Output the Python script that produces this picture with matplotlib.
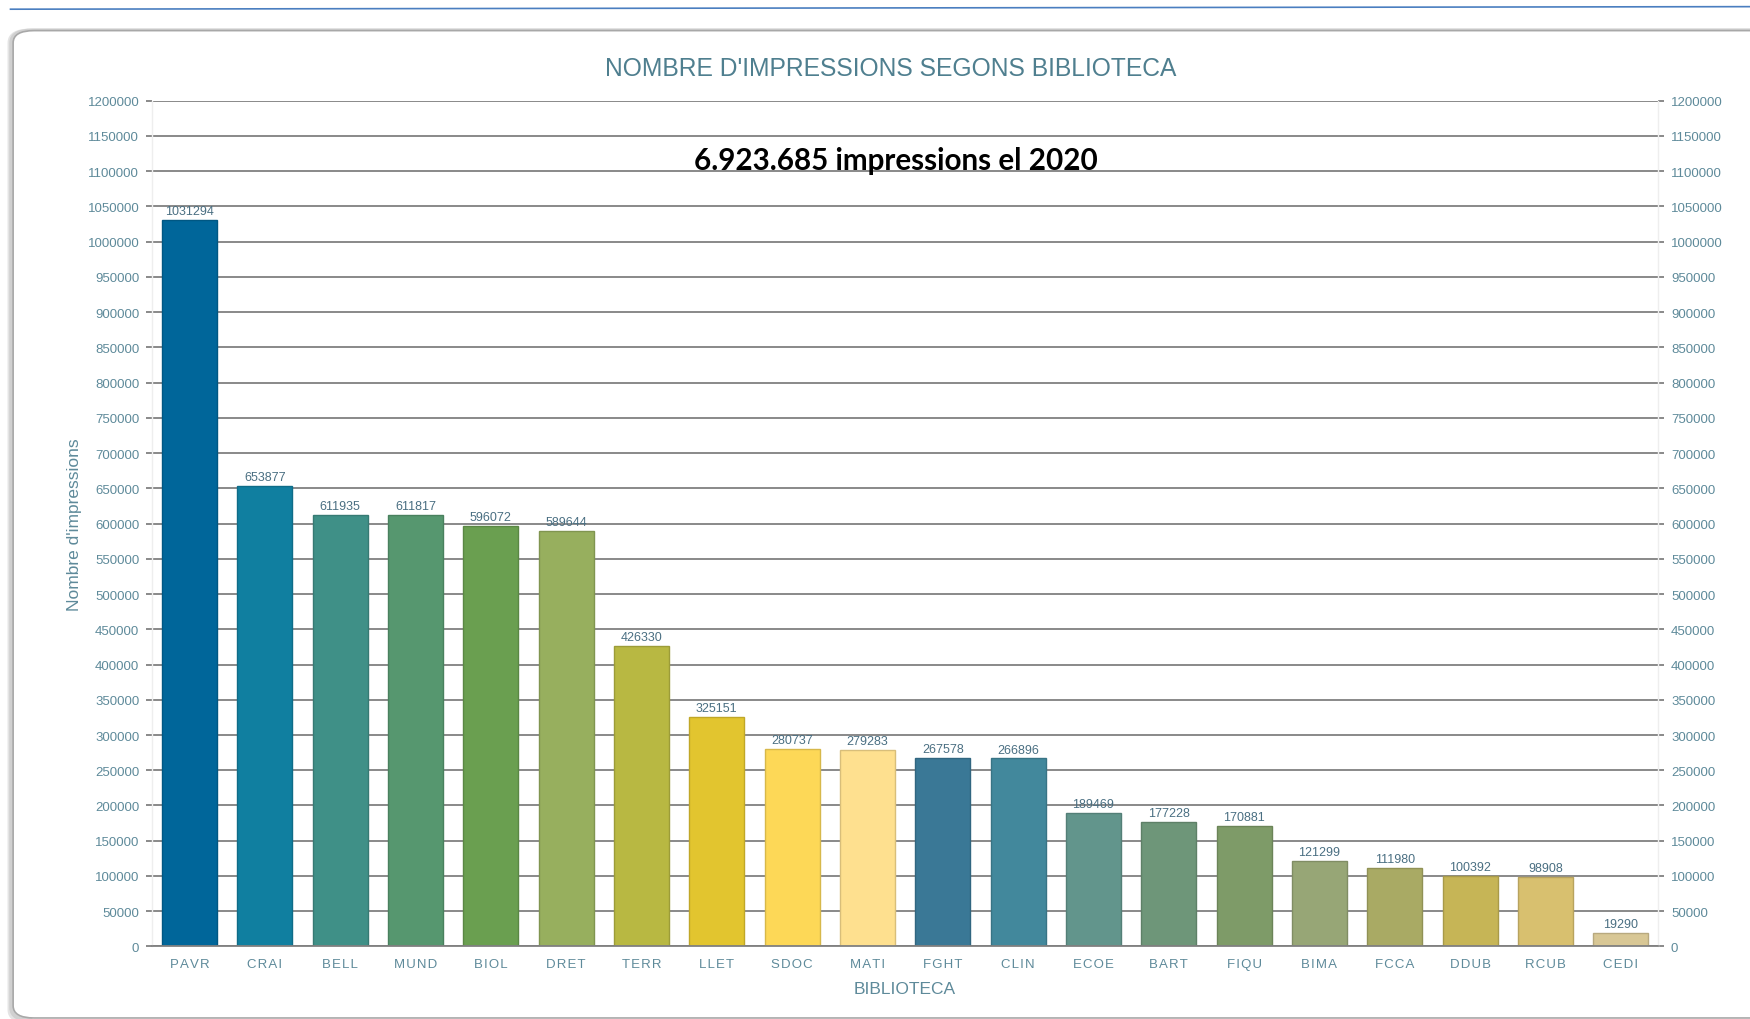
#!/usr/bin/env python3
"""Nombre d'impressions segons biblioteca (2020)."""

import matplotlib

matplotlib.use("Agg")
import matplotlib.pyplot as plt
from matplotlib.patches import FancyBboxPatch
from matplotlib.lines import Line2D
import numpy as np

LIBRARIES = ["PAVR", "CRAI", "BELL", "MUND", "BIOL", "DRET", "TERR", "LLET", "SDOC", "MATI",
             "FGHT", "CLIN", "ECOE", "BART", "FIQU", "BIMA", "FCCA", "DDUB", "RCUB", "CEDI"]
PRINTS = [1031294, 653877, 611935, 611817, 596072, 589644, 426330, 325151, 280737, 279283,
          267578, 266896, 189469, 177228, 170881, 121299, 111980, 100392, 98908, 19290]
BAR_COLORS = ["#00669A", "#107FA0", "#3F9087", "#56976F", "#6A9F50", "#97AF5E", "#B8B842",
              "#E2C52F", "#FDD857", "#FEE08F", "#3A7896", "#42889C", "#62958C", "#6E9679",
              "#7E9B68", "#97A676", "#A9AA64", "#C6B556", "#D8C06F", "#D8C795"]
Y_TICKS = list(range(0, 1200001, 50000))

TICK_COLOR = "#5E8A9A"
TITLE_COLOR = "#4F7F8F"
VALUE_COLOR = "#4A6F82"
GRID = "#808080"

plt.rcParams["font.family"] = ["Liberation Sans", "DejaVu Sans"]

fig = plt.figure(figsize=(17.5, 10.2), dpi=100, facecolor="white")

# page decorations: top rule and the rounded panel with its shadow
fig.add_artist(Line2D([0.006, 1.0], [0.990, 0.9925], color="#4A7EC0", linewidth=1.2,
                      transform=fig.transFigure))
for off, col in [(0.004, "#E4E4E4"), (0.002, "#D0D0D0")]:
    fig.add_artist(FancyBboxPatch((0.0075 - off / 2, 0.001 - off), 1.05, 0.968 + off,
                                  boxstyle="round,pad=0,rounding_size=0.012",
                                  transform=fig.transFigure, facecolor="none",
                                  edgecolor=col, linewidth=3, zorder=0))
fig.add_artist(FancyBboxPatch((0.0075, 0.001), 1.05, 0.968,
                              boxstyle="round,pad=0,rounding_size=0.012",
                              transform=fig.transFigure, facecolor="white",
                              edgecolor="#A8A8A8", linewidth=1.2, zorder=0))

ax = fig.add_axes([0.0867, 0.0711, 0.861, 0.8293])
ax.set_facecolor("none")
x = np.arange(len(LIBRARIES))
bars = ax.bar(x, PRINTS, width=0.73, color=BAR_COLORS, zorder=3)
for bar, col in zip(bars, BAR_COLORS):
    r, g, b, _ = matplotlib.colors.to_rgba(col)
    bar.set_edgecolor((r * 0.85, g * 0.85, b * 0.85))
    bar.set_linewidth(1.0)
for xi, v in zip(x, PRINTS):
    ax.text(xi, v + 4000, str(v), ha="center", va="bottom", fontsize=9, color=VALUE_COLOR, zorder=4)

ax.set_xlim(-0.5, len(LIBRARIES) - 0.5)
ax.set_ylim(0, 1200000)
ax.set_yticks(Y_TICKS)
ax.set_yticklabels([str(t) for t in Y_TICKS])
ax.yaxis.grid(True, color=GRID, linewidth=1.3, zorder=1)
ax.tick_params(axis="y", which="both", left=True, right=True, labelleft=True, labelright=True,
               length=4, width=1.3, color=GRID, labelsize=9.5, labelcolor=TICK_COLOR, pad=5)
ax.set_xticks(x)
ax.set_xticklabels(["\u200a".join(n) for n in LIBRARIES])
ax.tick_params(axis="x", length=0, labelsize=9.5, labelcolor=TICK_COLOR, pad=8)
for side in ("left", "right"):
    ax.spines[side].set_color("#EEEEEE")
    ax.spines[side].set_linewidth(1)
ax.spines["top"].set_visible(False)
ax.spines["bottom"].set_color(GRID)
ax.spines["bottom"].set_linewidth(1.3)
ax.spines["bottom"].set_zorder(5)

ax.set_ylabel("Nombre d'impressions", fontsize=12.5, color=TICK_COLOR, labelpad=4)
ax.set_xlabel("BIBLIOTECA", fontsize=12.5, color=TICK_COLOR, labelpad=8)

fig.text(0.509, 0.932, "NOMBRE D'IMPRESSIONS SEGONS BIBLIOTECA", ha="center", va="center",
         fontsize=17.7, color=TITLE_COLOR)
fig.text(0.512, 0.842, "6.923.685 impressions el 2020", ha="center", va="center",
         fontsize=21.3, fontweight="bold", color="black", family=["Lato", "DejaVu Sans"])

fig.savefig("out.png", dpi=100, facecolor="white")
